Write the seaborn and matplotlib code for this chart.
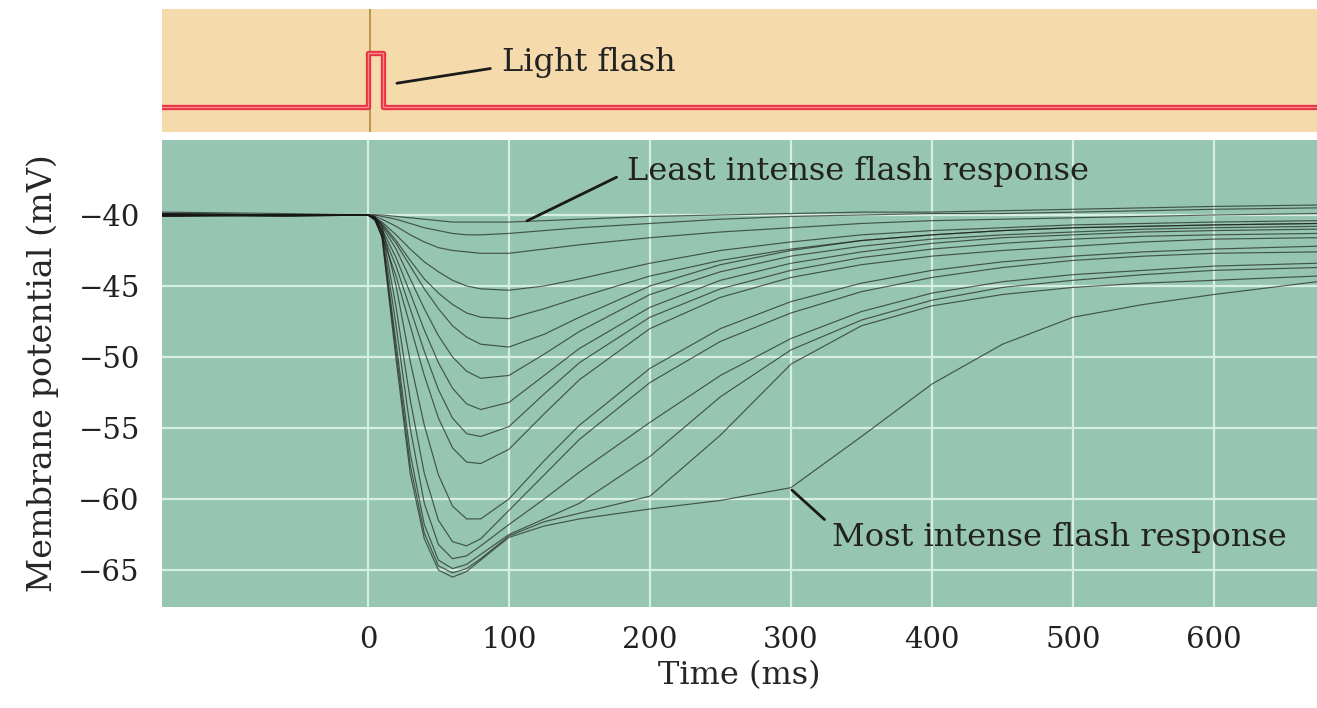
import pandas as pd
import seaborn as sns
import matplotlib.pyplot as plt

# Sample times (ms) shared by every recorded trace
times = [-146, -60, 0, 5, 10, 20, 30, 40, 50, 60, 70, 80, 100, 125, 150,
         200, 250, 300, 350, 400, 450, 500, 550, 600, 673]

# Membrane potential (mV) of each response, weakest flash first
trace_a = [-39.8, -39.9, -40.0, -40.0, -40.0, -40.1, -40.2, -40.3, -40.4, -40.5, -40.5, -40.5, -40.5,
           -40.4, -40.3, -40.1, -40.0, -39.9, -39.8, -39.8, -39.7, -39.6, -39.5, -39.4, -39.3]
trace_b = [-39.9, -40.0, -40.0, -40.0, -40.1, -40.3, -40.6, -40.9, -41.1, -41.3, -41.4, -41.4, -41.3,
           -41.1, -40.9, -40.6, -40.3, -40.1, -40.0, -39.9, -39.9, -39.8, -39.7, -39.6, -39.5]
trace_c = [-40.0, -40.0, -40.0, -40.1, -40.3, -40.8, -41.4, -41.9, -42.3, -42.5, -42.6, -42.7, -42.7,
           -42.4, -42.1, -41.6, -41.2, -40.9, -40.6, -40.4, -40.3, -40.2, -40.1, -40.0, -39.9]
trace_d = [-40.1, -40.0, -40.0, -40.2, -40.5, -41.4, -42.4, -43.3, -44.0, -44.6, -45.0, -45.2, -45.3,
           -45.0, -44.5, -43.4, -42.5, -41.9, -41.4, -41.1, -40.9, -40.7, -40.6, -40.5, -40.4]
trace_e = [-40.0, -40.1, -40.0, -40.2, -40.6, -41.8, -43.2, -44.5, -45.5, -46.3, -46.9, -47.2, -47.3,
           -46.6, -45.8, -44.3, -43.2, -42.4, -41.8, -41.4, -41.1, -40.9, -40.8, -40.7, -40.6]
trace_f = [-40.0, -40.0, -40.0, -40.2, -40.7, -42.0, -43.6, -45.2, -46.6, -47.8, -48.6, -49.1, -49.3,
           -48.4, -47.2, -45.0, -43.5, -42.5, -41.8, -41.4, -41.1, -40.9, -40.8, -40.7, -40.6]
trace_g = [-39.9, -40.0, -40.0, -40.2, -40.8, -42.4, -44.5, -46.6, -48.5, -50.0, -51.0, -51.5, -51.3,
           -49.8, -48.2, -45.6, -44.0, -42.9, -42.2, -41.7, -41.4, -41.2, -41.0, -40.9, -40.8]
trace_h = [-40.0, -40.0, -40.0, -40.3, -41.0, -43.0, -45.5, -48.1, -50.4, -52.2, -53.3, -53.7, -53.2,
           -51.3, -49.4, -46.5, -44.6, -43.4, -42.6, -42.0, -41.6, -41.4, -41.2, -41.1, -41.0]
trace_i = [-40.1, -40.0, -40.0, -40.3, -41.2, -43.6, -46.6, -49.6, -52.3, -54.3, -55.4, -55.6, -54.9,
           -52.6, -50.4, -47.2, -45.2, -43.9, -43.0, -42.4, -42.0, -41.7, -41.5, -41.4, -41.3]
trace_j = [-40.0, -40.0, -40.0, -40.4, -41.5, -44.3, -47.8, -51.3, -54.3, -56.4, -57.4, -57.5, -56.5,
           -54.0, -51.6, -48.0, -45.8, -44.4, -43.5, -42.9, -42.5, -42.2, -41.9, -41.7, -41.6]
trace_k = [-40.0, -40.0, -40.0, -40.1, -40.8, -45.0, -50.3, -54.8, -58.3, -60.5, -61.4, -61.4, -60.0,
           -57.3, -54.8, -50.8, -48.0, -46.1, -44.8, -43.9, -43.3, -42.9, -42.6, -42.4, -42.2]
trace_l = [-39.9, -40.0, -40.0, -40.2, -41.0, -46.5, -53.0, -58.2, -61.5, -63.0, -63.3, -62.8, -60.8,
           -58.3, -55.8, -51.8, -48.9, -46.9, -45.4, -44.4, -43.7, -43.2, -42.9, -42.7, -42.6]
trace_m = [-40.0, -40.0, -40.0, -40.2, -41.2, -47.8, -55.0, -60.3, -63.2, -64.2, -64.0, -63.3, -61.8,
           -60.0, -58.1, -54.6, -51.3, -48.7, -46.8, -45.5, -44.7, -44.2, -43.9, -43.6, -43.4]
trace_n = [-40.0, -40.1, -40.0, -40.3, -41.4, -49.0, -56.8, -61.8, -64.3, -64.9, -64.6, -63.9, -62.5,
           -61.4, -60.3, -57.0, -52.8, -49.5, -47.4, -46.0, -45.1, -44.6, -44.2, -43.9, -43.7]
trace_o = [-40.1, -40.0, -40.0, -40.3, -41.5, -49.6, -57.6, -62.4, -64.7, -65.2, -64.9, -64.2, -62.6,
           -61.6, -61.0, -59.8, -55.5, -50.5, -47.8, -46.4, -45.6, -45.1, -44.8, -44.6, -44.3]
trace_p = [-40.0, -40.0, -40.0, -40.3, -41.6, -50.2, -58.2, -62.8, -65.0, -65.5, -65.1, -64.3, -62.7,
           -61.9, -61.4, -60.7, -60.1, -59.2, -55.6, -51.9, -49.1, -47.2, -46.3, -45.6, -44.7]

traces = [trace_a, trace_b, trace_c, trace_d, trace_e, trace_f, trace_g, trace_h,
          trace_i, trace_j, trace_k, trace_l, trace_m, trace_n, trace_o, trace_p]

# Light stimulus: off, on for ~11 ms, off
flash_t = [-146, 0, 11, 673]
flash_level = [0, 1, 0, 0]

x_ticks = [0, 100, 200, 300, 400, 500, 600]
y_ticks = [-40, -45, -50, -55, -60, -65]

rows = []
for k, vals in enumerate(traces):
    for t, v in zip(times, vals):
        rows.append({"trace": k, "time": t, "mV": v})
df = pd.DataFrame(rows)
flash_df = pd.DataFrame({"time": flash_t, "level": flash_level})

sns.set_theme(style="white")
plt.rcParams["font.family"] = ["DejaVu Serif"]
plt.rcParams["text.color"] = "#222222"

teal = "#96c5b2"
tan = "#f5daac"

fig = plt.figure(figsize=(13.17, 7.08), dpi=100)
ax_top = fig.add_axes([0.123, 0.8136, 0.877, 0.1737])
ax = fig.add_axes([0.123, 0.1427, 0.877, 0.6596])

# --- stimulus panel ---
ax_top.set_facecolor(tan)
ax_top.axvline(1.5, color="#b08a3c", lw=1.2, zorder=1)
sns.lineplot(data=flash_df, x="time", y="level", ax=ax_top, color="#e8303e",
             lw=3.8, drawstyle="steps-post", sort=False, zorder=2)
sns.lineplot(data=flash_df, x="time", y="level", ax=ax_top, color="#f58a95",
             lw=1.0, drawstyle="steps-post", sort=False, zorder=3)
ax_top.set_xlim(-146, 673)
ax_top.set_ylim(-0.46, 1.81)
ax_top.set_xticks([])
ax_top.set_yticks([])
ax_top.set_xlabel("")
ax_top.set_ylabel("")
for s in ax_top.spines.values():
    s.set_visible(False)
ax_top.annotate("Light flash", xy=(20.6, 0.44), xytext=(95, 0.83),
                fontsize=23, ha="left", va="center",
                arrowprops=dict(arrowstyle="-", lw=2, color="#1a1a1a",
                                relpos=(0, 0.35), shrinkA=6, shrinkB=0))

# --- response panel ---
ax.set_facecolor(teal)
ax.grid(True, color="#d6eee4", lw=1.6)
ax.set_axisbelow(True)
sns.lineplot(data=df, x="time", y="mV", units="trace", estimator=None, ax=ax,
             color="#161616", lw=0.85, alpha=0.65, sort=False)
ax.set_xlim(-146, 673)
ax.set_ylim(-67.6, -34.72)
ax.set_xticks(x_ticks)
ax.set_yticks(y_ticks)
ax.tick_params(axis="both", length=0, labelsize=21, colors="#222222")
ax.tick_params(axis="y", pad=16)
ax.tick_params(axis="x", pad=14)
for s in ax.spines.values():
    s.set_visible(False)
ax.set_xlabel("Time (ms)", fontsize=23, labelpad=4)
ax.set_ylabel("Membrane potential (mV)", fontsize=24, labelpad=14)

ax.annotate("Least intense flash response", xy=(112.8, -40.42), xytext=(184, -36.97),
            fontsize=23, ha="left", va="center",
            arrowprops=dict(arrowstyle="-", lw=2, color="#1a1a1a",
                            relpos=(0, 0.5), shrinkA=6, shrinkB=0))
ax.annotate("Most intense flash response", xy=(300.7, -59.37), xytext=(329, -62.68),
            fontsize=23, ha="left", va="center",
            arrowprops=dict(arrowstyle="-", lw=2, color="#1a1a1a",
                            relpos=(0, 0.85), shrinkA=4, shrinkB=0))

fig.savefig("out.png", dpi=100)
plt.close(fig)
